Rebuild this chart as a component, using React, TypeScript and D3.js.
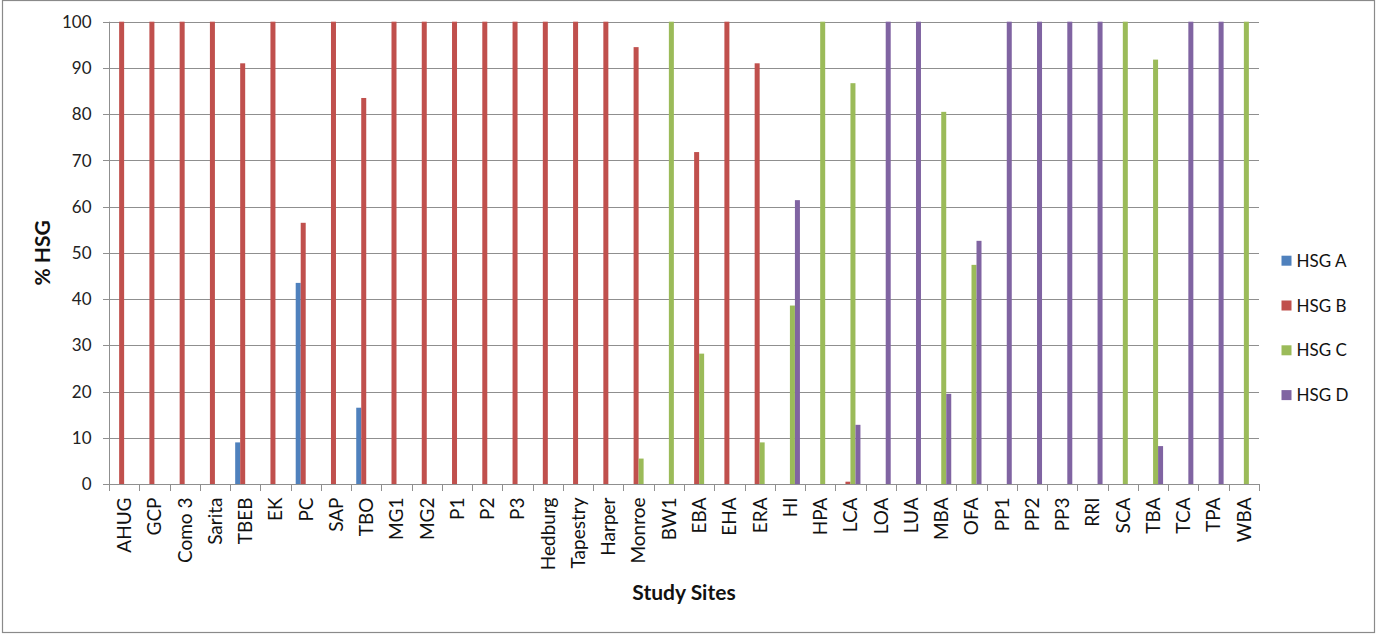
import React from "react";
import * as d3 from "d3";

const categories = ["AHUG","GCP","Como 3","Sarita","TBEB","EK","PC","SAP","TBO","MG1","MG2","P1","P2","P3","Hedburg","Tapestry","Harper","Monroe","BW1","EBA","EHA","ERA","HI","HPA","LCA","LOA","LUA","MBA","OFA","PP1","PP2","PP3","RRI","SCA","TBA","TCA","TPA","WBA"];
const seriesNames = ["HSG A","HSG B","HSG C","HSG D"];
const hsgA = [0,0,0,0,9,0,43.5,0,16.5,0,0,0,0,0,0,0,0,0,0,0,0,0,0,0,0,0,0,0,0,0,0,0,0,0,0,0,0,0];
const hsgB = [100,100,100,100,91,100,56.5,100,83.5,100,100,100,100,100,100,100,100,94.5,0,71.8,100,91,0,0,0.5,0,0,0,0,0,0,0,0,0,0,0,0,0];
const hsgC = [0,0,0,0,0,0,0,0,0,0,0,0,0,0,0,0,0,5.5,100,28.2,0,9,38.6,100,86.7,0,0,80.5,47.4,0,0,0,0,100,91.8,0,0,100];
const hsgD = [0,0,0,0,0,0,0,0,0,0,0,0,0,0,0,0,0,0,0,0,0,0,61.4,0,12.8,100,100,19.5,52.6,100,100,100,100,0,8.2,100,100,0];
const yTicks = [0,10,20,30,40,50,60,70,80,90,100];
const colors = ["#4F81BD","#C0504D","#9BBB59","#8064A2"];

export default function App() {
  const W = 1376, H = 634;
  const left = 109, right = 1259, top = 21.7, bottom = 484;
  const x = d3.scaleBand<string>().domain(categories).range([left, right]).paddingInner(0).paddingOuter(0);
  const y = d3.scaleLinear().domain([0, 100]).range([bottom, top]);
  const bw = x.bandwidth() / 6.05;
  const xs = d3.scaleBand<string>().domain(seriesNames).range([-2 * bw, 2 * bw]).padding(0);
  const data = [hsgA, hsgB, hsgC, hsgD];
  const font = "Lato, 'Open Sans', sans-serif";
  const grid = "#8f8f8f";
  return (
    <svg width={W} height={H} style={{ position: "absolute", left: 0, top: 0, background: "#fff" }} fontFamily={font}>
      <rect x={2.5} y={0.5} width={1372} height={632} fill="#fff" stroke="#8a8a8a" strokeWidth={1.2} />
      {yTicks.map(t => (
        <g key={t}>
          {t > 0 && <line x1={left} x2={right} y1={Math.round(y(t)) + 0.5} y2={Math.round(y(t)) + 0.5} stroke={grid} strokeWidth={1} />}
          <line x1={left - 6} x2={left} y1={Math.round(y(t)) + 0.5} y2={Math.round(y(t)) + 0.5} stroke={grid} strokeWidth={1} />
          <text x={91.5} y={y(t)} dy="0.36em" textAnchor="end" fontSize={17} fill="#222">{t}</text>
        </g>
      ))}
      {data.map((vals, si) => (
        <g key={si} fill={colors[si]}>
          {vals.map((v, ci) => v > 0 ? (
            <rect key={ci}
              x={(x(categories[ci]) as number) + x.bandwidth() / 2 + (xs(seriesNames[si]) as number)}
              y={y(v)} width={xs.bandwidth()} height={y(0) - y(v)} />
          ) : null)}
        </g>
      ))}
      <line x1={left + 0.5} x2={left + 0.5} y1={top} y2={bottom} stroke={grid} strokeWidth={1} />
      <line x1={left} x2={right} y1={bottom + 0.5} y2={bottom + 0.5} stroke={grid} strokeWidth={1} />
      {categories.concat(["__end"]).map((c, i) => {
        const px = Math.round(left + i * x.bandwidth()) + 0.5;
        return <line key={"t" + i} x1={px} x2={px} y1={bottom} y2={bottom + 7} stroke={grid} strokeWidth={1} />;
      })}
      {categories.map(c => {
        const cx = (x(c) as number) + x.bandwidth() / 2;
        return (
          <text key={c} transform={`translate(${cx},${497.5}) rotate(-90)`} textAnchor="end" dy="0.36em" fontSize={19} fill="#111">{c}</text>
        );
      })}
      <text x={(left + right) / 2} y={599.5} textAnchor="middle" fontSize={21} fontWeight="bold" fill="#111">Study Sites</text>
      <text transform={`translate(49.5,${(top + bottom) / 2}) rotate(-90)`} textAnchor="middle" fontSize={21} fontWeight="bold" fill="#111">% HSG</text>
      {seriesNames.map((s, i) => {
        const ly = 260.7 + i * 44.8;
        return (
          <g key={s}>
            <rect x={1281.5} y={ly - 5} width={10} height={10} fill={colors[i]} />
            <text x={1296.5} y={ly} dy="0.36em" fontSize={17} fill="#111">{s}</text>
          </g>
        );
      })}
    </svg>
  );
}
